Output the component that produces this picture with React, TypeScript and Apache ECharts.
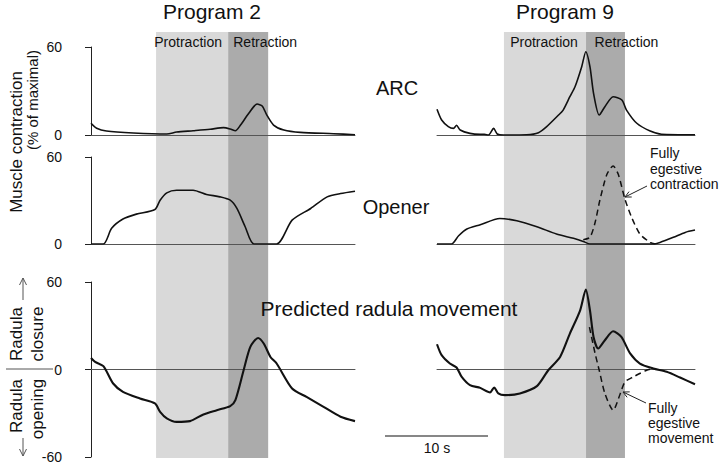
import React, { useEffect, useRef } from "react";
import * as echarts from "echarts";

const FONT = "'Liberation Sans', Arial, Helvetica, sans-serif";

// time (s) vs % of maximal, Program 2
const arcP2 = [[0,8.0],[0.55,4.6],[1.5,2.7],[4.1,1.4],[7.35,0.7],[8.3,2.0],[9.9,2.9],[11.55,3.9],[12.85,5.0],[13.5,4.1],[14.0,2.9],[14.5,6.8],[15.3,14.8],[16.1,21.1],[16.6,19.8],[17.05,13.6],[17.7,6.8],[18.7,3.4],[20.3,1.8],[23.5,0.9],[25.6,0.2]];
const openerP2 = [[0,0],[1.2,0],[2.0,10.8],[3.1,17.2],[4.4,20.6],[6.2,23.8],[6.7,30.2],[7.35,35.3],[8.3,37.1],[9.9,37.1],[11.2,34.2],[12.5,32.5],[13.5,30.2],[14.15,24.5],[14.95,11.9],[15.8,0],[18.0,0],[19.5,16.5],[21.3,24.5],[22.9,32.5],[24.2,34.8],[25.6,36.4]];
const radulaP2 = [[0,7.9],[0.4,5.2],[1.2,2.3],[2.15,-9.6],[3.1,-15.3],[4.75,-19.9],[6.2,-23.3],[6.7,-29.0],[7.35,-33.5],[8.3,-35.9],[9.6,-35.4],[10.9,-30.8],[12.2,-27.9],[13.5,-25.1],[14.0,-21.0],[14.8,-0.5],[15.45,15.5],[16.2,21.6],[16.75,17.8],[17.4,8.6],[18.0,4.1],[19.5,-13.0],[20.9,-18.8],[22.55,-25.6],[24.2,-32.4],[25.6,-35.4]];

// Program 9
const arcP9 = [[0,17.5],[0.45,10.2],[1.1,5.7],[1.6,4.5],[1.9,6.6],[2.25,3.4],[3.2,1.1],[4.2,0.5],[4.6,0.5],[5.0,0],[5.5,4.5],[5.85,0.7],[6.45,0],[8.7,0.2],[9.85,1.6],[10.65,5.7],[11.8,13.6],[12.25,17.0],[12.9,26.1],[13.4,32.9],[14.05,46.6],[14.45,56.8],[14.85,46.6],[15.2,28.4],[15.75,13.6],[16.3,19.3],[17.1,26.1],[17.95,23.9],[18.4,17.0],[19.4,8.0],[20.7,2.7],[21.8,0.5],[25.05,0.2]];
const openerP9 = [[0,0],[1.4,0],[2.1,5.7],[2.9,10.3],[4.2,13.3],[6.1,17.6],[7.75,16.0],[9.7,11.9],[11.6,6.9],[13.25,3.9],[14.2,1.8],[14.85,0],[21.0,0],[21.65,1.1],[22.95,4.6],[24.1,8.0],[25.05,9.6]];
const openerP9Egestive = [[14.2,3.0],[14.85,4.6],[15.35,14.8],[15.8,29.8],[16.5,48.1],[17.1,53.8],[17.6,48.1],[18.25,30.9],[18.9,18.3],[19.7,6.9],[20.7,1.1],[21.2,0]];
const radulaP9 = [[0,17.3],[0.45,9.8],[1.25,4.1],[1.9,1.4],[2.4,-5.1],[3.2,-10.7],[4.2,-12.6],[5.15,-15.7],[5.55,-12.3],[5.95,-16.4],[6.6,-17.6],[8.05,-16.4],[9.7,-11.4],[10.8,-0.5],[11.95,8.6],[12.9,24.6],[13.9,40.6],[14.45,54.8],[14.85,40.6],[15.2,22.3],[15.65,14.4],[16.3,20.1],[17.1,26.2],[17.9,22.3],[18.75,11.0],[19.7,4.1],[21.0,0.7],[22.3,-1.6],[23.6,-5.5],[25.05,-10.1]];
const radulaP9Egestive = [[14.8,29.0],[15.35,11.0],[15.75,-0.5],[16.3,-16.4],[17.1,-27.9],[17.8,-16.4],[18.25,-8.5],[19.05,-5.1],[20.35,-0.5],[21.0,0.7]];

// phases (s): protraction start, retraction start, retraction end
const phasesP2 = [6.31, 13.3, 17.18];
const phasesP9 = [6.5, 14.47, 18.25];
const spanP2 = 25.6;
const spanP9 = 25.05;

const yTicksMuscle = [0, 60];
const yTicksRadula = [-60, 60];

function arrow(x1: number, y1: number, x2: number, y2: number, color: string, w: number, head = 6) {
  const dx = x2 - x1, dy = y2 - y1;
  const L = Math.hypot(dx, dy);
  const ux = dx / L, uy = dy / L;
  const px = -uy, py = ux;
  const hx = x2 - ux * head, hy = y2 - uy * head;
  return [
    { type: "line", z: 100, shape: { x1, y1, x2, y2 }, style: { stroke: color, lineWidth: w }, silent: true },
    {
      type: "polyline",
      z: 100,
      shape: { points: [[hx + px * head * 0.5, hy + py * head * 0.5], [x2, y2], [hx - px * head * 0.5, hy - py * head * 0.5]] },
      style: { stroke: color, lineWidth: w, fill: "none" },
      silent: true,
    },
  ];
}

function txt(text: string, x: number, y: number, size: number, align = "center", rotation = 0) {
  return {
    type: "text",
    x,
    y,
    z: 100,
    rotation,
    silent: true,
    style: { text, fontSize: size, fontFamily: FONT, fill: "#111", align, verticalAlign: "middle" },
  };
}

export default function App() {
  const ref = useRef<HTMLDivElement>(null);
  useEffect(() => {
    if (!ref.current) return;
    const chart = echarts.init(ref.current, null, { renderer: "svg" });

    const L = { left: 91, width: 264 };
    const R = { left: 437, width: 258 };
    const rows = [
      { top: 47, height: 88 },
      { top: 157, height: 87 },
      { top: 282, height: 175 },
    ];
    const grids: any[] = [];
    [L, R].forEach((c) => rows.forEach((r) => grids.push({ left: c.left, width: c.width, top: r.top, height: r.height })));
    grids.push({ left: L.left, width: L.width, top: 32, height: 426 });
    grids.push({ left: R.left, width: R.width, top: 32, height: 426 });

    const xAxes: any[] = grids.map((g, i) => ({
      type: "value",
      gridIndex: i,
      min: 0,
      max: i < 3 || i === 6 ? spanP2 : spanP9,
      show: i < 6,
      z: 3,
      axisLine: { show: true, onZero: true, lineStyle: { color: "#555", width: 1 } },
      axisTick: { show: false },
      axisLabel: { show: false },
      splitLine: { show: false },
    }));

    const yAxes: any[] = grids.map((g, i) => {
      const r = i % 3;
      const isRad = i < 6 && r === 2;
      const ticks = isRad ? yTicksRadula : yTicksMuscle;
      return {
        type: "value",
        gridIndex: i,
        min: i >= 6 ? 0 : ticks[0],
        max: i >= 6 ? 1 : ticks[1],
        interval: 60,
        show: i < 3,
        offset: 14,
        z: 3,
        axisLine: { show: true, lineStyle: { color: "#222", width: 1 } },
        axisTick: { show: true, inside: false, length: 6, lineStyle: { color: "#222" } },
        axisLabel: { show: true, margin: 15, fontSize: 14, fontFamily: FONT, color: "#111" },
        splitLine: { show: false },
      };
    });

    const line = (data: number[][], idx: number, width: number, dashed = false) => ({
      type: "line",
      xAxisIndex: idx,
      yAxisIndex: idx,
      data,
      symbol: "none",
      smooth: 0.25,
      z: 5,
      silent: true,
      lineStyle: { color: "#111", width, type: dashed ? [6, 4] : "solid" },
    });

    const shading = (idx: number, ph: number[], offP: number, offR: number) => ({
      type: "line",
      xAxisIndex: idx,
      yAxisIndex: idx,
      data: [[0, 0]],
      symbol: "none",
      lineStyle: { opacity: 0 },
      z: 1,
      silent: true,
      markArea: {
        silent: true,
        label: { show: true, position: "insideTop", distance: 3, fontSize: 14, fontFamily: FONT, color: "#111" },
        data: [
          [{ name: "Protraction", xAxis: ph[0], itemStyle: { color: "#d9d9d9" }, label: { offset: [offP, 0] } }, { xAxis: ph[1] }],
          [{ name: "Retraction", xAxis: ph[1], itemStyle: { color: "#ababab" }, label: { offset: [offR, 0] } }, { xAxis: ph[2] }],
        ],
      },
    });

    const series: any[] = [
      shading(6, phasesP2, -4, 17),
      shading(7, phasesP9, -1, 21),
      line(arcP2, 0, 1.6),
      line(openerP2, 1, 1.6),
      line(radulaP2, 2, 2.1),
      line(arcP9, 3, 1.6),
      line(openerP9, 4, 1.6),
      line(openerP9Egestive, 4, 1.5, true),
      line(radulaP9, 5, 2.1),
      line(radulaP9Egestive, 5, 1.5, true),
    ];

    const graphic: any[] = [
      txt("Program 2", 212, 11, 21),
      txt("Program 9", 565, 11, 21),
      txt("ARC", 397, 88, 20),
      txt("Opener", 396, 207, 20),
      txt("Predicted radula movement", 389, 308, 21),
      txt("Muscle contraction", 16, 142, 17, "center", Math.PI / 2),
      txt("(% of maximal)", 32, 100, 15, "center", Math.PI / 2),
      txt("Radula", 16, 334, 17, "center", Math.PI / 2),
      txt("closure", 37, 334, 17, "center", Math.PI / 2),
      txt("Radula", 16, 406, 17, "center", Math.PI / 2),
      txt("opening", 37, 409, 17, "center", Math.PI / 2),
      { type: "line", z: 100, shape: { x1: 6, y1: 369, x2: 53, y2: 369 }, style: { stroke: "#555", lineWidth: 1 }, silent: true },
      ...arrow(23, 300, 23, 278, "#555", 1, 7),
      ...arrow(23, 438, 23, 456, "#555", 1, 7),
      txt("Fully", 650, 153, 14, "left"),
      txt("egestive", 650, 169, 14, "left"),
      txt("contraction", 650, 184, 14, "left"),
      ...arrow(647, 186, 625, 197, "#222", 1, 6),
      txt("Fully", 648, 408, 14, "left"),
      txt("egestive", 648, 423, 14, "left"),
      txt("movement", 648, 438, 14, "left"),
      ...arrow(646, 403, 623, 392, "#222", 1, 6),
      { type: "line", z: 100, shape: { x1: 385, y1: 436, x2: 488, y2: 436 }, style: { stroke: "#111", lineWidth: 1.2 }, silent: true },
      txt("10 s", 437, 448, 14),
    ];

    chart.setOption({
      animation: false,
      backgroundColor: "#fff",
      grid: grids,
      xAxis: xAxes,
      yAxis: yAxes,
      series,
      graphic,
    });
    return () => chart.dispose();
  }, []);
  return <div ref={ref} style={{ position: "absolute", left: 0, top: 0, width: 720, height: 468, background: "#fff" }} />;
}
